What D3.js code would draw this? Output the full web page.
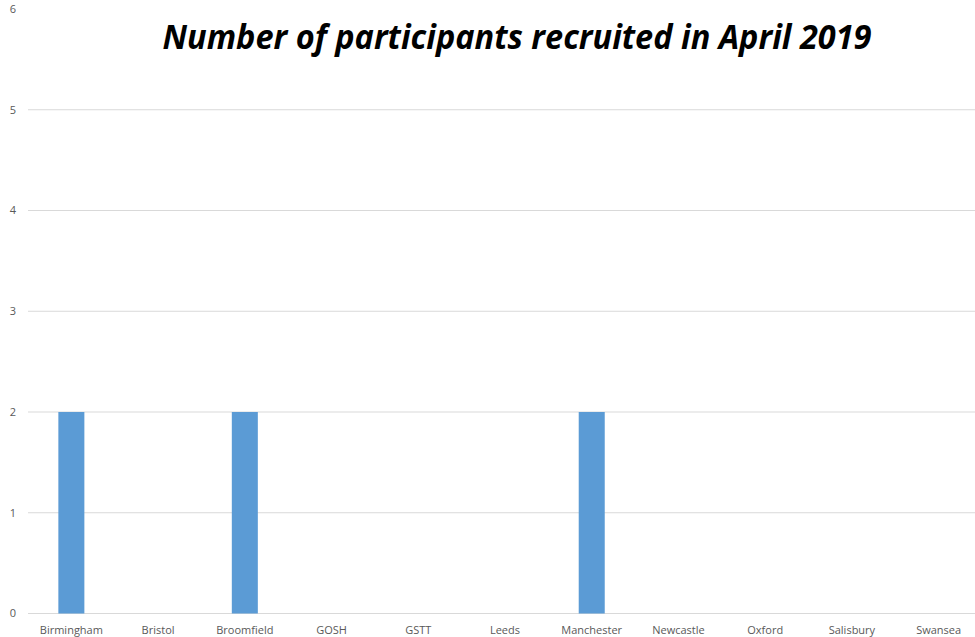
<!DOCTYPE html>
<html>
<head>
<meta charset="utf-8">
<script src="https://cdn.jsdelivr.net/npm/d3@7"></script>
<style>
  body { margin: 0; background: #fff; }
  svg { display: block; }
</style>
</head>
<body>
<svg width="975" height="637"></svg>
<script>
var sites = ['Birmingham', 'Bristol', 'Broomfield', 'GOSH', 'GSTT', 'Leeds',
  'Manchester', 'Newcastle', 'Oxford', 'Salisbury', 'Swansea'];
var recruited = [2, 0, 2, 0, 0, 0, 2, 0, 0, 0, 0];
var yTicks = [0, 1, 2, 3, 4, 5, 6];

var svg = d3.select("svg");

var x = d3.scaleBand()
  .domain(sites)
  .range([28, 982])
  .paddingInner(0.7)
  .paddingOuter(0.35);

var y = d3.scaleLinear().domain([0, 6]).range([613.5, 9]);

// gridlines (top one is not drawn in the original)
svg.append("g").selectAll("line")
  .data(yTicks.filter(function (d) { return d < 6; }))
  .enter().append("line")
  .attr("x1", 28).attr("x2", 975)
  .attr("y1", function (d) { return y(d); })
  .attr("y2", function (d) { return y(d); })
  .attr("stroke", "#d9d9d9")
  .attr("stroke-width", 1);

svg.append("g").selectAll("text")
  .data(yTicks)
  .enter().append("text")
  .attr("x", 16)
  .attr("y", function (d) { return y(d); })
  .attr("dy", "0.35em")
  .attr("text-anchor", "end")
  .attr("font-family", "'Open Sans', sans-serif")
  .attr("font-size", 11)
  .attr("fill", "#595959")
  .text(function (d) { return d; });

svg.append("g").selectAll("rect")
  .data(recruited)
  .enter().append("rect")
  .attr("x", function (d, i) { return x(sites[i]); })
  .attr("width", x.bandwidth())
  .attr("y", function (d) { return y(d); })
  .attr("height", function (d) { return y(0) - y(d); })
  .attr("fill", "#5b9bd5");

svg.append("g").selectAll("text")
  .data(sites)
  .enter().append("text")
  .attr("x", function (d) { return x(d) + x.bandwidth() / 2; })
  .attr("y", 634)
  .attr("text-anchor", "middle")
  .attr("font-family", "'Open Sans', sans-serif")
  .attr("font-size", 11)
  .attr("fill", "#595959")
  .text(function (d) { return d; });

svg.append("text")
  .attr("x", 517)
  .attr("y", 49)
  .attr("text-anchor", "middle")
  .attr("font-family", "'Open Sans', sans-serif")
  .attr("font-style", "italic")
  .attr("font-weight", "bold")
  .attr("font-size", 34)
  .attr("textLength", 709)
  .attr("lengthAdjust", "spacingAndGlyphs")
  .attr("fill", "#000")
  .text("Number of participants recruited in April 2019");
</script>
</body>
</html>
